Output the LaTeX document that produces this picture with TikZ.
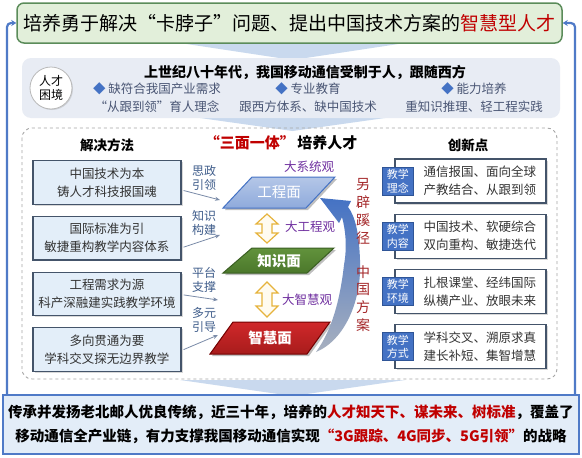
\documentclass[tikz,border=0pt]{standalone}
\usepackage{fontspec}
\setmainfont{Noto Sans CJK SC}
\usepackage{xcolor}
\usetikzlibrary{shapes.geometric, arrows.meta, positioning, calc, shadows}
\definecolor{titlefill}{HTML}{E2EFDA}
\definecolor{titleborder}{HTML}{5B8C5A}
\definecolor{accentred}{HTML}{C00000}
\definecolor{sideblue}{HTML}{4F7AC7}
\definecolor{panelgray}{HTML}{E8ECF4}
\definecolor{slate}{HTML}{44546A}
\definecolor{textslate}{HTML}{4A5674}
\definecolor{boxfill}{HTML}{E3EEF9}
\definecolor{chevron}{HTML}{C9D9EE}
\definecolor{viewpurple}{HTML}{7030A0}
\definecolor{tabblue}{HTML}{4472C4}
\definecolor{tabborder}{HTML}{2F5597}
\definecolor{dashgray}{HTML}{A6A6A6}
\definecolor{gold}{HTML}{E6B33C}
\definecolor{goldfill}{HTML}{FFFBF0}
\definecolor{labelblue}{HTML}{3E5C8A}
\definecolor{guidegray}{HTML}{7A8BA8}
\definecolor{darkred}{HTML}{A5282A}
\definecolor{bottomfill}{HTML}{E3EDF8}
\definecolor{greentop}{HTML}{62923C}
\definecolor{greenbot}{HTML}{4B782B}
\definecolor{greenborder}{HTML}{3A5E22}
\definecolor{redtop}{HTML}{D0282A}
\definecolor{redbot}{HTML}{A81C1C}

\begin{document}
\begin{tikzpicture}[x=1pt, y=-1pt, node distance=10pt,
    every node/.style={inner sep=0pt},
    methodbox/.style={rectangle, draw=slate, line width=1.2pt, fill=boxfill, minimum width=148pt, minimum height=43.5pt, align=center, text=black!80, font=\fontsize{12.5}{18}\selectfont, drop shadow={opacity=.3, shadow xshift=1.5pt, shadow yshift=-1.5pt}},
    pointbox/.style={rectangle, draw=slate, line width=1.2pt, fill=white, minimum width=151pt, minimum height=44pt, text width=131pt, inner xsep=10pt, align=right, text=black!80, font=\fontsize{12.5}{18}\selectfont, drop shadow={opacity=.3, shadow xshift=1.5pt, shadow yshift=-1.5pt}},
    pointtab/.style={rectangle, draw=tabborder, line width=0.8pt, fill=tabblue, minimum width=31pt, minimum height=28pt, text=white, align=center, font=\fontsize{11}{13.5}\selectfont},
    guide/.style={-{Stealth[length=5pt, width=4pt]}, draw=guidegray, line width=0.8pt},
    guidelabel/.style={align=center, text=labelblue, font=\fontsize{12}{14}\selectfont},
    view/.style={text=viewpurple, font=\fontsize{12.5}{15}\selectfont},
    dblarrow/.style={draw=gold, line width=1.2pt, fill=goldfill},
    heading/.style={font=\bfseries\fontsize{13.5}{16}\selectfont},
    redvert/.style={align=center, text=darkred, font=\fontsize{14}{17.7}\selectfont},
    sideline/.style={draw=sideblue, line width=2.2pt, rounded corners=4pt, -{Stealth[length=5pt, width=6pt]}}]

    \useasboundingbox (0,0) rectangle (582,458);
    \fill[white] (0,0) rectangle (582,458);

    % Chevrons
    \fill[chevron] (180,43) -- (405,43) -- (292.5,60) -- cycle;
    \fill[chevron] (200,118) -- (385,118) -- (292.5,131) -- cycle;
    \fill[chevron] (180,380) -- (405,380) -- (292.5,396) -- cycle;

    % Top and bottom
    \node (title) [rectangle, draw=titleborder, line width=1.5pt, fill=titlefill, rounded corners=7pt, minimum width=545pt, minimum height=40pt, font=\fontsize{19}{22}\selectfont] at (289.5,23) {培养勇于解决“卡脖子”问题、提出中国技术方案的\textcolor{accentred}{智慧型人才}};
    \node (bot) [rectangle, draw=sideblue, line width=1.5pt, fill=bottomfill, minimum width=576pt, minimum height=59pt, align=center, font=\bfseries\fontsize{14.5}{24}\selectfont] at (291,424.5) {传承并发扬老北邮人优良传统，近三十年，培养的\textcolor{accentred}{人才知天下、谋未来、树标准}，覆盖了\\移动通信全产业链，有力支撑我国移动通信实现\textcolor{accentred}{“3G跟踪、4G同步、5G引领”}的战略};
    \coordinate (lb) at (7,394);
    \coordinate (rb) at (575,394);
    \draw[sideline] (lb) |- (title.west);
    \draw[sideline] (rb) |- (title.east);

    % Dilemma panel
    \node (dilemma) [rectangle, fill=panelgray, rounded corners=9pt, minimum width=538pt, minimum height=60pt] at (291,88) {};
    \node (kj) [circle, draw=gray!55, line width=0.8pt, fill=white, minimum size=42pt, align=center, font=\fontsize{12}{14}\selectfont, drop shadow={opacity=.25, shadow xshift=1pt, shadow yshift=-1pt}] at (51,88) {人才\\困境};
    \node (dtitle) [font=\bfseries\fontsize{14}{16}\selectfont] at (305,72) {上世纪八十年代，我国移动通信受制于人，跟随西方};
    \node (dq1) [align=center, text=textslate, font=\fontsize{12.5}{17.5}\selectfont] at (157,97.5) {\textcolor{tabblue}{◆} 缺符合我国产业需求\\“从跟到领”育人理念};
    \node (dq2) [align=center, text=textslate, font=\fontsize{12.5}{17.5}\selectfont] at (308,97.5) {\textcolor{tabblue}{◆} 专业教育\\跟西方体系、缺中国技术};
    \node (dq3) [align=center, text=textslate, font=\fontsize{12.5}{17.5}\selectfont] at (474,97.5) {\textcolor{tabblue}{◆} 能力培养\\重知识推理、轻工程实践};

    % Dashed panel
    \draw[dashgray, dashed, line width=0.9pt, rounded corners=10pt] (22,128) rectangle (557,379);

    % Methods
    \node (hmethod) [heading] at (107,145) {解决方法};
    \node (m1) [methodbox] at (107,182.5) {中国技术为本\\铸人才科技报国魂};
    \node (m2) [methodbox, below=11pt of m1] {国际标准为引\\敏捷重构教学内容体系};
    \node (m3) [methodbox, below=11pt of m2] {工程需求为源\\科产深融建实践教学环境};
    \node (m4) [methodbox, below=11pt of m3] {多向贯通为要\\学科交叉探无边界教学};

    % Innovation points
    \node (hpoint) [heading] at (468,145) {创新点};
    \node (c1) [pointbox] at (470.5,181) {通信报国、面向全球\\产教结合、从跟到领};
    \node (c2) [pointbox, below=of c1] {中国技术、软硬综合\\双向重构、敏捷迭代};
    \node (c3) [pointbox, below=of c2] {扎根课堂、经纬国际\\纵横产业、放眼未来};
    \node (c4) [pointbox, below=of c3] {学科交叉、溯原求真\\建长补短、集智增慧};
    \node (t1) [pointtab] at ([xshift=3.5pt]c1.west) {教学\\理念};
    \node (t2) [pointtab] at ([xshift=3.5pt]c2.west) {教学\\内容};
    \node (t3) [pointtab] at ([xshift=3.5pt]c3.west) {教学\\环境};
    \node (t4) [pointtab] at ([xshift=3.5pt]c4.west) {教学\\方式};

    % Three planes
    \node (sanmian) [font=\bfseries\fontsize{15}{18}\selectfont] at (281,143) {\textcolor{accentred}{“三面一体”}\,培养人才};
    \fill[black, opacity=.25] (225,210) -- (308,210) -- (337,179) -- (254,179) -- cycle;
    \shadedraw[top color=tabblue!40, bottom color=tabblue!60, draw=tabblue, line width=1pt] (223,208) -- (306,208) -- (335,177) -- (252,177) -- cycle;
    \fill[black, opacity=.25] (225,275) -- (309,275) -- (336,250) -- (254,250) -- cycle;
    \shadedraw[top color=greentop, bottom color=greenbot, draw=greenborder, line width=1pt] (223,273) -- (307,273) -- (334,248) -- (252,248) -- cycle;
    \fill[black, opacity=.25] (212,356) -- (309,356) -- (332,324) -- (235,324) -- cycle;
    \shadedraw[top color=redtop, bottom color=redbot, draw=red!45!black, line width=1pt] (210,354) -- (307,354) -- (330,322) -- (233,322) -- cycle;
    \node (gcm) [text=white, font=\fontsize{14.5}{17}\selectfont] at (279,192.5) {工程面};
    \node (zsm) [text=white, font=\bfseries\fontsize{14.5}{17}\selectfont] at (279,260.5) {知识面};
    \node (zhm) [text=white, font=\bfseries\fontsize{14.5}{17}\selectfont] at (270,338) {智慧面};

    % Double arrows
    \coordinate (up) at (267,228.5);
    \coordinate (lo) at (267,299.5);
    \draw[dblarrow] ($(up)+(0,-14.5)$) -- ++(11,10) -- ++(-6,0) -- ++(0,9) -- ++(6,0) -- ++(-11,10) -- ++(-11,-10) -- ++(6,0) -- ++(0,-9) -- ++(-6,0) -- cycle;
    \draw[dblarrow] ($(lo)+(0,-17.5)$) -- ++(11,11) -- ++(-6,0) -- ++(0,13) -- ++(6,0) -- ++(-11,11) -- ++(-11,-11) -- ++(6,0) -- ++(0,-13) -- ++(-6,0) -- cycle;

    % Views
    \node (v1) [view] at (309,167) {大系统观};
    \node (v2) [view] at (310,227) {大工程观};
    \node (v3) [view] at (307,300) {大智慧观};

    % Curved arrow
    \shade[top color=tabblue, bottom color=tabblue!30!gray!60] (316,352) .. controls (345,340) and (362,300) .. (360,260) .. controls (359,232) and (355,216) .. (348,207) -- (351,201) -- (320,198) -- (339,223) -- (342,217) .. controls (346,232) and (347,248) .. (344,265) .. controls (340,300) and (332,330) .. (316,352) -- cycle;
    \node (lpj) [redvert] at (363,211.5) {另\\辟\\蹊\\径};
    \node (zgfa) [redvert] at (363,298.5) {中\\国\\方\\案};

    % Guides
    \coordinate (a1) at (220,200);
    \coordinate (a2) at (220,235);
    \coordinate (a3) at (218,300);
    \coordinate (a4) at (218,335);
    \draw[guide] ($(m1.east)+(2,8)$) -- (a1);
    \draw[guide] ($(m2.east)+(2,9)$) -- (a2);
    \draw[guide] ($(m3.east)+(2,1)$) -- (a3);
    \draw[guide] ($(m4.east)+(2,0)$) -- (a4);
    \node (g1) [guidelabel] at (204,178) {思政\\引领};
    \node (g2) [guidelabel] at (204,223) {知识\\构建};
    \node (g3) [guidelabel] at (204,280) {平台\\支撑};
    \node (g4) [guidelabel] at (204,320) {多元\\引导};
\end{tikzpicture}
\end{document}
